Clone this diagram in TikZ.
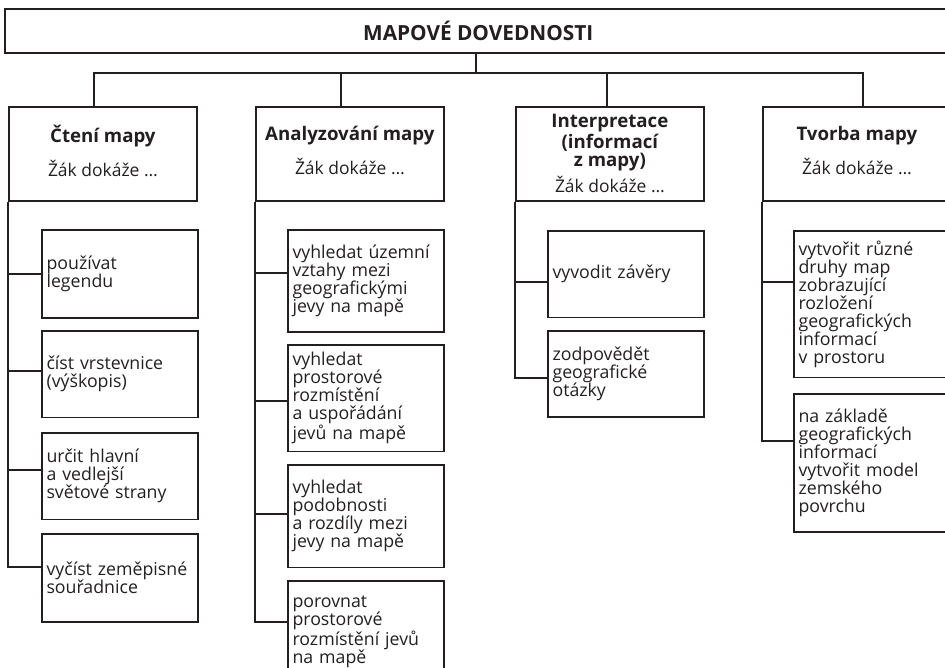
\documentclass[tikz,border=0pt]{standalone}
\usepackage{fontspec}
\setmainfont{Open Sans}
\usepackage{tikz}
\usetikzlibrary{positioning, calc}
\definecolor{inkline}{RGB}{35, 31, 32}
\tikzset{
  headbox/.style={draw=inkline, line width=1.3pt, anchor=north west, minimum height=33pt, text=inkline, font=\bfseries\fontsize{15.6}{16}\selectfont},
  catbox/.style={draw=inkline, line width=1.3pt, anchor=north west, minimum width=141pt, minimum height=70.5pt, align=center, inner sep=2pt, text=inkline, font=\fontsize{13.1}{14}\selectfont},
  itembox/.style={draw=inkline, line width=1.3pt, anchor=north west, text width=110pt, minimum width=117pt, inner xsep=3.5pt, inner ysep=2pt, align=left, text=inkline, font=\fontsize{13.3}{13.5}\selectfont},
  link/.style={draw=inkline, line width=1.3pt},
}
\newcommand{\headline}[1]{{\bfseries\fontsize{14}{14.2}\selectfont #1}}

\begin{document}
\begin{tikzpicture}[x=0.75pt, y=-0.75pt]
  \clip (0,0) rectangle (945,667);
  \node[headbox, minimum width=710pt] (title) at (4,8) {MAPOVÉ DOVEDNOSTI};
  % skill groups
  \node[catbox] (cten) at (8,106) {\headline{Čtení mapy}\\[9pt]Žák dokáže …\\[-9pt]};
  \node[catbox] (anal) at (255,106) {\headline{Analyzování mapy}\\[9pt]Žák dokáže …\\[-9pt]};
  \node[catbox] (intp) at (515,106) {\headline{Interpretace}\\\headline{(informací}\\\headline{z mapy)}\\[3pt]Žák dokáže …};
  \node[catbox] (tvor) at (762,106) {\headline{Tvorba mapy}\\[9pt]Žák dokáže …\\[-9pt]};
  % bus from the title
  \coordinate (hub) at (476,73);
  \coordinate (d1) at (94,0);
  \coordinate (d2) at (341,0);
  \coordinate (d3) at (607,0);
  \coordinate (d4) at (863,0);
  \draw[link] (title.south -| hub) -- (hub);
  \draw[link] (hub) -| (d1 |- cten.north);
  \draw[link] (hub) -| (d2 |- anal.north);
  \draw[link] (hub) -| (d3 |- intp.north);
  \draw[link] (hub) -| (d4 |- tvor.north);
  % Čtení mapy
  \node[itembox, minimum height=66pt] (s11) at (41,229) {používat\\legendu};
  \node[itembox, minimum height=65pt] (s12) at (41,330) {číst vrstevnice\\(výškopis)};
  \node[itembox, minimum height=65pt] (s13) at (41,432) {určit hlavní\\a vedlejší\\světové strany};
  \node[itembox, minimum height=66pt] (s14) at (41,533) {vyčíst zeměpisné\\souřadnice};
  % Analyzování mapy
  \node[itembox, minimum height=76.5pt] (s21) at (287,229) {vyhledat územní\\vztahy mezi\\geografickými\\jevy na mapě};
  \node[itembox, minimum height=80pt] (s22) at (287,344) {vyhledat\\prostorové\\rozmístění\\a uspořádání\\jevů na mapě};
  \node[itembox, minimum height=77pt] (s23) at (287,464) {vyhledat\\podobnosti\\a rozdíly mezi\\jevy na mapě};
  \node[itembox, minimum height=76.5pt] (s24) at (287,580) {porovnat\\prostorové\\rozmístění jevů\\na mapě};
  % Interpretace
  \node[itembox, minimum height=65pt] (s31) at (547,230) {vyvodit závěry};
  \node[itembox, minimum height=64.5pt] (s32) at (547,330) {zodpovědět\\geografické\\otázky};
  % Tvorba mapy
  \node[itembox, minimum height=110pt] (s41) at (793,230) {vytvořit různé\\druhy map\\zobrazující\\rozložení\\geografických\\informací\\v prostoru};
  \node[itembox, minimum height=103.5pt] (s42) at (793,393) {na základě\\geografických\\informací\\vytvořit model\\zemského\\povrchu};
  % trunks
  \draw[link] (cten.south west) |- (s11.west);
  \draw[link] (cten.south west) |- ([shift={(0,-3.5)}]s12.west);
  \draw[link] (cten.south west) |- ([shift={(0,-6.5)}]s13.west);
  \draw[link] (cten.south west) |- ([shift={(0,-11)}]s14.west);
  \draw[link] (anal.south west) |- ([shift={(0,-8)}]s21.west);
  \draw[link] (anal.south west) |- ([shift={(0,2.5)}]s22.west);
  \draw[link] (anal.south west) |- ([shift={(0,-2.5)}]s23.west);
  \draw[link] (anal.south west) |- ([shift={(0,-10)}]s24.west);
  \draw[link] (intp.south west) |- ([shift={(0,7.5)}]s31.west);
  \draw[link] (intp.south west) |- ([shift={(0,4)}]s32.west);
  \draw[link] (tvor.south west) |- ([shift={(0,-22.5)}]s41.west);
  \draw[link] (tvor.south west) |- ([shift={(0,-22)}]s42.west);
\end{tikzpicture}
\end{document}
